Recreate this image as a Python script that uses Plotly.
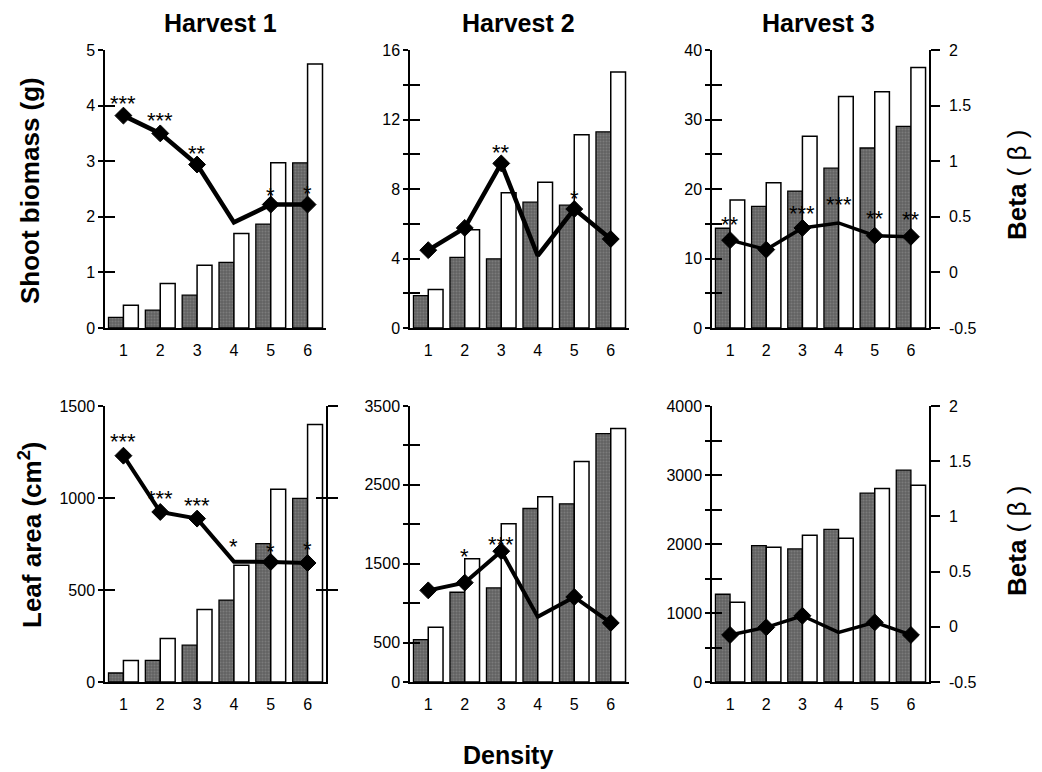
import plotly.graph_objects as go

# ---------------- data ----------------
categories = [1, 2, 3, 4, 5, 6]

# Shoot biomass (g) - dark bars / open bars, beta line, significance
shoot_h1_dark = [0.19, 0.32, 0.59, 1.18, 1.87, 2.97]
shoot_h1_open = [0.41, 0.80, 1.13, 1.70, 2.97, 4.75]
shoot_h1_beta = [1.41, 1.25, 0.97, 0.45, 0.61, 0.61]
shoot_h1_sig = ["***", "***", "**", "", "*", "*"]

shoot_h2_dark = [1.86, 4.07, 3.98, 7.24, 7.07, 11.29]
shoot_h2_open = [2.21, 5.65, 7.78, 8.39, 11.12, 14.73]
shoot_h2_beta = [0.20, 0.40, 0.98, 0.15, 0.57, 0.30]
shoot_h2_sig = ["", "", "**", "", "*", ""]

shoot_h3_dark = [14.35, 17.5, 19.7, 23.0, 25.9, 29.0]
shoot_h3_open = [18.4, 20.9, 27.6, 33.3, 34.0, 37.5]
shoot_h3_beta = [0.29, 0.205, 0.40, 0.445, 0.33, 0.32]
shoot_h3_sig = ["**", "", "***", "***", "**", "**"]

# Leaf area (cm2)
leaf_h1_dark = [49, 117, 200, 445, 752, 998]
leaf_h1_open = [117, 237, 394, 634, 1048, 1399]
leaf_h1_beta = [1.55, 1.04, 0.98, 0.59, 0.587, 0.578]
leaf_h1_sig = ["***", "***", "***", "*", "*", "*"]

leaf_h2_dark = [537, 1138, 1193, 2200, 2260, 3149]
leaf_h2_open = [694, 1562, 2006, 2349, 2797, 3216]
leaf_h2_beta = [0.33, 0.40, 0.685, 0.09, 0.27, 0.035]
leaf_h2_sig = ["", "*", "***", "", "", ""]

leaf_h3_dark = [1272, 1976, 1928, 2212, 2737, 3070]
leaf_h3_open = [1157, 1952, 2125, 2082, 2805, 2853]
leaf_h3_beta = [-0.074, -0.005, 0.10, -0.05, 0.04, -0.074]
leaf_h3_sig = ["", "", "", "", "", ""]

# left-axis tick settings
shoot_h1_ticks = [0, 1, 2, 3, 4, 5]
shoot_h1_labels = ["0", "1", "2", "3", "4", "5"]
shoot_h2_ticks = [0, 2, 4, 6, 8, 10, 12, 14, 16]
shoot_h2_labels = ["0", "", "4", "", "8", "", "12", "", "16"]
shoot_h3_ticks = [0, 5, 10, 15, 20, 25, 30, 35, 40]
shoot_h3_labels = ["0", "", "10", "", "20", "", "30", "", "40"]
leaf_h1_ticks = [0, 500, 1000, 1500]
leaf_h1_labels = ["0", "500", "1000", "1500"]
leaf_h2_ticks = [0, 500, 1000, 1500, 2000, 2500, 3000, 3500]
leaf_h2_labels = ["0", "500", "", "1500", "", "2500", "", "3500"]
leaf_h3_ticks = [0, 500, 1000, 1500, 2000, 2500, 3000, 3500, 4000]
leaf_h3_labels = ["0", "", "1000", "", "2000", "", "3000", "", "4000"]

beta_ticks = [-0.5, 0, 0.5, 1, 1.5, 2]
beta_labels = ["-0.5", "0", "0.5", "1", "1.5", "2"]

harvest_titles = ["Harvest 1", "Harvest 2", "Harvest 3"]

# ---------------- styling ----------------
W, H = 1042, 772
OFF = 8  # page body margin in the browser
FONT = "Liberation Sans, Arial, Helvetica, sans-serif"
col_px = [(105, 326), (410, 629), (712, 929)]
row_px = [(50, 328), (406, 682)]
DARK = "#626262"

panels = [
    dict(dark=shoot_h1_dark, open=shoot_h1_open, beta=shoot_h1_beta, sig=shoot_h1_sig,
         ymax=5, ticks=shoot_h1_ticks, labels=shoot_h1_labels, beta_axis=False, right_plain=False,
         star_shift=[12, 13, 11, 0, 9, 11], lw=4.5),
    dict(dark=shoot_h2_dark, open=shoot_h2_open, beta=shoot_h2_beta, sig=shoot_h2_sig,
         ymax=16, ticks=shoot_h2_ticks, labels=shoot_h2_labels, beta_axis=False, right_plain=False,
         star_shift=[0, 0, 11, 0, 11, 0], lw=4.5),
    dict(dark=shoot_h3_dark, open=shoot_h3_open, beta=shoot_h3_beta, sig=shoot_h3_sig,
         ymax=40, ticks=shoot_h3_ticks, labels=shoot_h3_labels, beta_axis=True, right_plain=False,
         star_shift=[16, 0, 14, 18, 17, 17], lw=3.5),
    dict(dark=leaf_h1_dark, open=leaf_h1_open, beta=leaf_h1_beta, sig=leaf_h1_sig,
         ymax=1500, ticks=leaf_h1_ticks, labels=leaf_h1_labels, beta_axis=False, right_plain=True,
         star_shift=[14, 13, 13, 15, 11, 13], lw=4),
    dict(dark=leaf_h2_dark, open=leaf_h2_open, beta=leaf_h2_beta, sig=leaf_h2_sig,
         ymax=3500, ticks=leaf_h2_ticks, labels=leaf_h2_labels, beta_axis=False, right_plain=False,
         star_shift=[0, 26, 7, 0, 0, 0], lw=4),
    dict(dark=leaf_h3_dark, open=leaf_h3_open, beta=leaf_h3_beta, sig=leaf_h3_sig,
         ymax=4000, ticks=leaf_h3_ticks, labels=leaf_h3_labels, beta_axis=True, right_plain=False,
         star_shift=[0, 0, 0, 0, 0, 0], lw=3.5),
]


def xd(a, b):
    return [(a - OFF) / W, (b - OFF) / W]


def yd(t, b):
    return [1 - (b - OFF) / H, 1 - (t - OFF) / H]


def px(xs):
    return (xs - OFF) / W


def py(ys):
    return 1 - (ys - OFF) / H


fig = go.Figure()
layout = {}
annotations = []
marker_sizes = [13, 13, 13, 0, 13, 13]

for i, p in enumerate(panels):
    r, c = divmod(i, 3)
    xn = i + 1
    base = i * 5 + 1
    yl, yin, yb, yr, yr2 = base, base + 1, base + 2, base + 3, base + 4
    xa = "x" if xn == 1 else f"x{xn}"
    xkey = "xaxis" if xn == 1 else f"xaxis{xn}"

    def yk(n):
        return "yaxis" if n == 1 else f"yaxis{n}"

    def yr_(n):
        return "y" if n == 1 else f"y{n}"

    layout[xkey] = dict(domain=xd(*col_px[c]), anchor=yr_(yl), range=[0.5, 6.5],
                        showline=True, linecolor="black", linewidth=1.5, ticks="",
                        tickvals=categories, ticktext=[str(v) for v in categories],
                        tickfont=dict(size=16, color="black"), showgrid=False, zeroline=False,
                        ticklabelstandoff=7, automargin=False)
    layout[yk(yl)] = dict(domain=yd(*row_px[r]), anchor=xa, range=[0, p["ymax"]],
                          showline=True, linecolor="black", linewidth=1.5,
                          ticks="outside", ticklen=5, tickwidth=1.5, tickcolor="black",
                          tickvals=p["ticks"], ticktext=p["labels"],
                          tickfont=dict(size=16, color="black"), showgrid=False, zeroline=False,
                          ticklabelstandoff=0, automargin=False)
    layout[yk(yin)] = dict(overlaying=yr_(yl), anchor=xa, range=[0, p["ymax"]],
                           showline=False, ticks="inside", ticklen=10, tickwidth=1.5,
                           tickcolor="black", tickvals=p["ticks"], showticklabels=False,
                           showgrid=False, zeroline=False, automargin=False)
    if p["beta_axis"]:
        layout[yk(yb)] = dict(overlaying=yr_(yl), anchor=xa, side="right", range=[-0.5, 2],
                              showline=True, linecolor="black", linewidth=1.5,
                              ticks="outside", ticklen=9, tickwidth=1.5, tickcolor="black",
                              tickvals=beta_ticks, ticktext=beta_labels,
                              tickfont=dict(size=16, color="black"), showgrid=False,
                              zeroline=False, ticklabelstandoff=6, automargin=False)
    else:
        layout[yk(yb)] = dict(overlaying=yr_(yl), anchor=xa, side="right", range=[-0.5, 2],
                              visible=False, showgrid=False, zeroline=False, automargin=False)
    if p["right_plain"]:
        rt = [v for v in p["ticks"] if v > 0]
        layout[yk(yr)] = dict(overlaying=yr_(yl), anchor=xa, side="right", range=[0, p["ymax"]],
                              showline=True, linecolor="black", linewidth=1.5,
                              ticks="outside", ticklen=10, tickwidth=1.5, tickcolor="black",
                              tickvals=rt, showticklabels=False, showgrid=False, zeroline=False,
                              automargin=False)
        layout[yk(yr2)] = dict(overlaying=yr_(yl), anchor=xa, side="right", range=[0, p["ymax"]],
                               showline=False, ticks="inside", ticklen=10, tickwidth=1.5,
                               tickcolor="black", tickvals=rt, showticklabels=False,
                               showgrid=False, zeroline=False, automargin=False)
        for n in (yr, yr2):
            fig.add_trace(go.Scatter(x=[None], y=[None], xaxis=xa, yaxis=yr_(n),
                                     showlegend=False, hoverinfo="skip"))

    fig.add_trace(go.Scatter(x=[None], y=[None], xaxis=xa, yaxis=yr_(yin),
                             showlegend=False, hoverinfo="skip"))

    fig.add_trace(go.Bar(x=categories, y=p["dark"], xaxis=xa, yaxis=yr_(yl),
                         marker=dict(color=DARK, line=dict(color="black", width=1.3),
                                     pattern=dict(shape=".", fgcolor="#939393", bgcolor=DARK,
                                                  size=3, solidity=0.35)),
                         showlegend=False, name="dark"))
    fig.add_trace(go.Bar(x=categories, y=p["open"], xaxis=xa, yaxis=yr_(yl),
                         marker=dict(color="white", line=dict(color="black", width=1.5)),
                         showlegend=False, name="open"))
    fig.add_trace(go.Scatter(x=categories, y=p["beta"], xaxis=xa, yaxis=yr_(yb),
                             mode="lines+markers",
                             line=dict(color="black", width=p["lw"]),
                             marker=dict(symbol="diamond", size=marker_sizes, color="black",
                                         opacity=1, line=dict(width=1, color="black")),
                             showlegend=False, name="beta"))
    for k, s in enumerate(p["sig"]):
        if s:
            annotations.append(dict(x=categories[k], y=p["beta"][k], xref=xa, yref=yr_(yb),
                                    text=s, showarrow=False, xanchor="center", yanchor="middle",
                                    yshift=p["star_shift"][k],
                                    font=dict(size=22, color="black", family=FONT)))

# text labels
title_x = [220, 518, 818]
for t, xc in zip(harvest_titles, title_x):
    annotations.append(dict(x=px(xc), y=py(23), xref="paper", yref="paper",
                            xanchor="center", yanchor="middle",
                            text=f"<b>{t}</b>", showarrow=False,
                            font=dict(size=25, color="black", family=FONT)))
annotations += [
    dict(x=px(30), y=py(191), xref="paper", yref="paper", text="<b>Shoot biomass (g)</b>",
         xanchor="center", yanchor="middle",
         textangle=-90, showarrow=False, font=dict(size=26, color="black", family=FONT)),
    dict(x=px(30), y=py(535), xref="paper", yref="paper",
         text="<b>Leaf area (cm<sup>2</sup>)</b>", xanchor="center", yanchor="middle",
         textangle=-90, showarrow=False, font=dict(size=26, color="black", family=FONT)),
    dict(x=px(1017), y=py(185), xref="paper", yref="paper", text="<b>Beta</b> ( β )",
         xanchor="center", yanchor="middle",
         textangle=-90, showarrow=False, font=dict(size=26, color="black", family=FONT)),
    dict(x=px(1017), y=py(541), xref="paper", yref="paper", text="<b>Beta</b> ( β )",
         xanchor="center", yanchor="middle",
         textangle=-90, showarrow=False, font=dict(size=26, color="black", family=FONT)),
    dict(x=px(508), y=py(755), xref="paper", yref="paper", text="<b>Density</b>",
         xanchor="center", yanchor="middle",
         showarrow=False, font=dict(size=25, color="black", family=FONT)),
]

fig.update_layout(**layout)
fig.update_layout(
    width=W, height=H, autosize=False,
    margin=dict(l=0, r=0, t=0, b=0, pad=0, autoexpand=False),
    paper_bgcolor="white", plot_bgcolor="white",
    barmode="group", bargap=0.19, bargroupgap=0.0,
    font=dict(family=FONT, color="black", size=16),
    annotations=annotations,
    showlegend=False,
)

fig.write_html("out.html")
